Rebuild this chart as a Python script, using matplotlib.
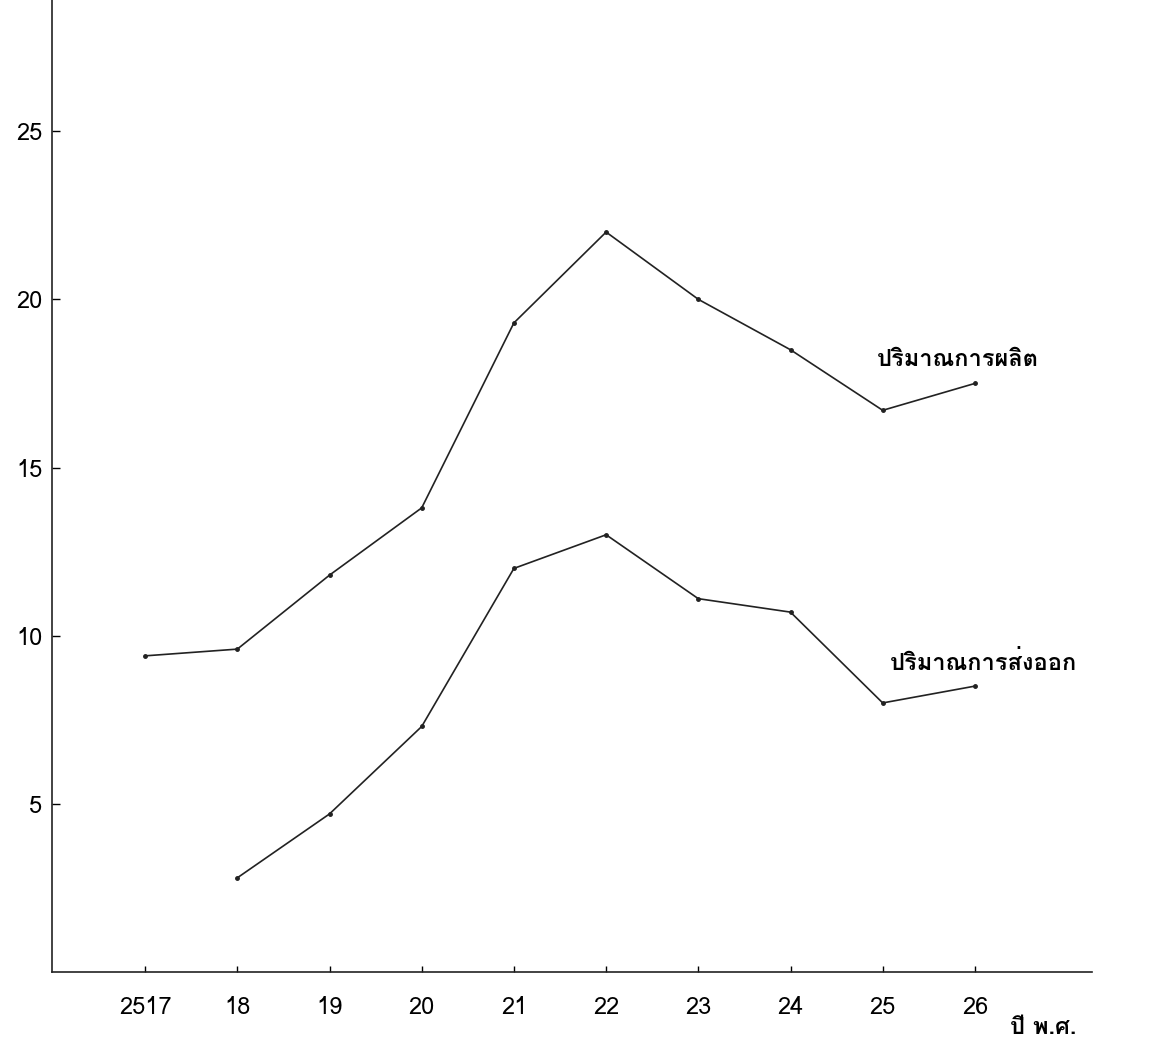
import matplotlib
matplotlib.use("Agg")
import matplotlib.pyplot as plt
from matplotlib import font_manager
from matplotlib.ft2font import FT2Font

# years (Buddhist era) and values
years = [2517, 2518, 2519, 2520, 2521, 2522, 2523, 2524, 2525, 2526]
year_labels = ["2517", "18", "19", "20", "21", "22", "23", "24", "25", "26"]

production = [9.4, 9.6, 11.8, 13.8, 19.3, 22.0, 20.0, 18.5, 16.7, 17.5]
export_years = [2518, 2519, 2520, 2521, 2522, 2523, 2524, 2525, 2526]
export = [2.8, 4.7, 7.3, 12.0, 13.0, 11.1, 10.7, 8.0, 8.5]

y_ticks = [5, 10, 15, 20, 25]


def thai_font():
    # first installed family that actually has Thai glyphs
    for f in font_manager.fontManager.ttflist:
        try:
            if 0x0E1B in FT2Font(f.fname).get_charmap():
                return f.name
        except Exception:
            pass
    return "DejaVu Sans"


THAI = thai_font()
plt.rcParams["font.family"] = [THAI, "DejaVu Sans"]

fig = plt.figure(figsize=(11.51, 10.43), dpi=100)
ax = fig.add_axes([52 / 1151, 71 / 1043, 1040 / 1151, 972 / 1043])

line_kw = dict(color="#222222", lw=1.2, marker="o", ms=2.5)
ax.plot(years, production, **line_kw)
ax.plot(export_years, export, **line_kw)

ax.set_xlim(2515.99, 2527.27)
ax.set_ylim(0, 28.9)

for side in ["top", "right"]:
    ax.spines[side].set_visible(False)
for side in ["left", "bottom"]:
    ax.spines[side].set_linewidth(1.2)
    ax.spines[side].set_color("#222222")

ax.set_yticks(y_ticks)
ax.set_yticklabels([str(v) for v in y_ticks])
ax.set_xticks(years)
ax.set_xticklabels(year_labels)
ax.tick_params(axis="y", direction="in", length=6, width=1, pad=7, labelsize=17)
ax.tick_params(axis="x", direction="in", length=4, width=1, pad=17, labelsize=17)

ax.text(2524.94, 18.2, "ปริมาณการผลิต", fontsize=17, fontweight="bold",
        ha="left", va="center")
ax.text(2525.08, 9.2, "ปริมาณการส่งออก", fontsize=17, fontweight="bold",
        ha="left", va="center")
ax.text(2526.38, -1.65, "ปี พ.ศ.", fontsize=17, fontweight="bold",
        ha="left", va="center", clip_on=False)

fig.savefig("out.png", dpi=100)
